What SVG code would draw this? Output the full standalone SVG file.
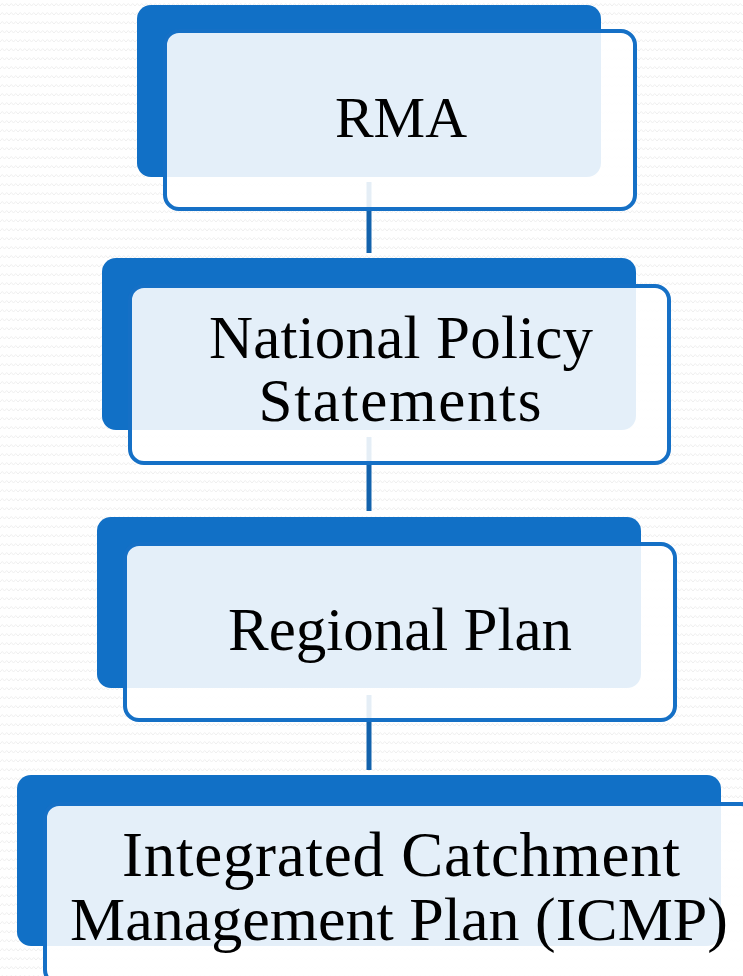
<svg xmlns="http://www.w3.org/2000/svg" width="743" height="976" viewBox="0 0 743 976">
  <style>
    .back { fill: #1170C6; }
    .front { fill: #FFFFFF; fill-opacity: 0.89; stroke: #1570C6; stroke-width: 4; }
    .label { font-family: "Liberation Serif", "DejaVu Serif", serif; font-size: 61px; fill: #000000; text-anchor: middle; }
    .conn { stroke: #1262AC; stroke-width: 5; fill: none; }
  </style>
  <defs>
    <pattern id="zig" width="9" height="9" patternUnits="userSpaceOnUse">
      <path d="M0 6 L2.25 3.5 L4.5 6 L6.75 3.5 L9 6" fill="none" stroke="#EFEFEF" stroke-width="1"/>
    </pattern>
  </defs>
  <rect x="0" y="0" width="743" height="976" fill="#FFFFFF"/>
  <rect x="0" y="0" width="743" height="976" fill="url(#zig)"/>

  <g id="connectors">
    <line class="conn" x1="369" y1="182" x2="369" y2="253"/>
    <line class="conn" x1="369" y1="437" x2="369" y2="511"/>
    <line class="conn" x1="369" y1="695" x2="369" y2="770"/>
  </g>

  <g id="node-rma">
    <rect class="back" x="137" y="5" width="464" height="172" rx="14"/>
    <rect class="front" x="165" y="31" width="470" height="178" rx="14"/>
    <text class="label" x="401" y="137" style="font-size:58px">RMA</text>
  </g>

  <g id="node-nps">
    <rect class="back" x="102" y="258" width="534" height="172" rx="14"/>
    <rect class="front" x="130" y="286" width="539" height="177" rx="14"/>
    <text class="label" x="401" y="358" textLength="384" lengthAdjust="spacing">National Policy</text>
    <text class="label" x="400" y="421" textLength="283" lengthAdjust="spacing">Statements</text>
  </g>

  <g id="node-regional">
    <rect class="back" x="97" y="517" width="544" height="171" rx="14"/>
    <rect class="front" x="125" y="544" width="550" height="176" rx="14"/>
    <text class="label" x="400" y="650">Regional Plan</text>
  </g>

  <g id="node-icmp">
    <rect class="back" x="17" y="775" width="704" height="171" rx="14"/>
    <rect class="front" x="45" y="804" width="710" height="180" rx="14"/>
    <text class="label" x="401" y="876" style="font-size:63px" textLength="558" lengthAdjust="spacing">Integrated Catchment</text>
    <text class="label" x="399" y="940" style="font-size:62px">Management Plan (ICMP)</text>
  </g>
</svg>
